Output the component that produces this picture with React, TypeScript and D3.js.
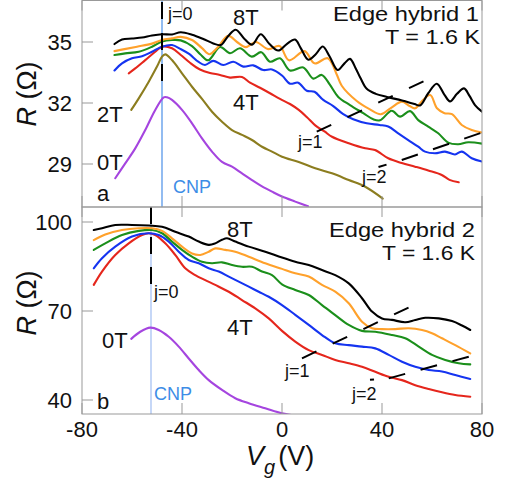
import React from "react";
import * as d3 from "d3";

// ---------- data ----------
const VG_TICKS = [-80, -40, 0, 40, 80];
const RA_TICKS = [29, 32, 35];
const RB_TICKS = [40, 70, 100];

const CNP_A = -48;
const CNP_B = -52.4;

// Panel a (Edge hybrid 1)
const a8T: [number, number][] = [[-67,34.9],[-64,35.12],[-60,35.17],[-56,35.22],[-52,35.32],[-48,35.38],[-44,35.37],[-40.5,35.48],[-36,35.36],[-31.5,35.15],[-27.5,34.93],[-24.5,34.85],[-21.5,35.3],[-18.5,35.6],[-15,35.15],[-12,34.87],[-8.5,35.38],[-5,34.9],[-1.5,34.58],[1.9,34.9],[5.2,35.12],[7.5,34.7],[10.5,34.13],[13.5,34.4],[16.3,34.78],[19,34.3],[22.3,33.62],[25,33.95],[27.2,34.17],[29.5,33.7],[31.5,33.2],[33.9,32.7],[37.5,32.45],[42,32.3],[48,32.12],[53,31.95],[55.2,31.88],[58.5,32.48],[61.9,32.95],[65,32.4],[67.2,32.08],[70,32.45],[72.8,32.72],[75,32.35],[77.2,31.9],[80,31.57]];
const a7T: [number, number][] = [[-67,34.55],[-63,34.65],[-58,34.77],[-52,34.92],[-48,35.1],[-44,35.18],[-40.5,35.25],[-36,35.1],[-32,34.7],[-29,34.4],[-26,34.7],[-21.5,35.3],[-18,35.0],[-14.5,34.75],[-10.5,35.0],[-5.5,34.65],[-1,34.8],[2.8,34.1],[9,34.55],[13,33.95],[18.3,34.2],[21.9,33.4],[23.9,32.85],[29.9,32.1],[35,31.7],[39.5,31.45],[43.5,31.75],[48,32.07],[51,31.85],[53.3,31.74],[56,32.1],[59.3,32.39],[62,31.74],[65,31.5],[68,31.45],[71.9,30.92],[75.9,30.67],[80,30.55]];
const a6T: [number, number][] = [[-67,34.36],[-62.7,34.44],[-57.3,34.52],[-52,34.77],[-48,35.02],[-44,35.1],[-40.5,35.08],[-36,34.8],[-32.7,34.4],[-29.5,34.1],[-24.8,34.75],[-20.8,34.45],[-16.8,34.69],[-12.1,34.28],[-8.3,34.5],[-4.8,34.03],[-0.8,34.2],[3.2,33.6],[8.5,33.75],[12.5,33.2],[15.9,33.38],[19.2,32.89],[22.5,32.3],[27.2,31.9],[32.5,31.5],[36.5,31.2],[39.2,31.15],[43.9,31.62],[47.2,31.33],[51.2,31.6],[54.5,31.16],[58.5,30.84],[62.5,30.51],[66.5,30.05],[70.5,29.97],[74.5,30.07],[80,30.0]];
const a5T: [number, number][] = [[-67,33.6],[-64,33.95],[-60,34.2],[-56,34.3],[-52,34.52],[-48,34.77],[-44,34.85],[-40.5,34.65],[-37,34.4],[-33.5,34.03],[-30.8,33.87],[-27.5,34.07],[-23.5,33.87],[-19.5,34.03],[-15.5,33.79],[-11.5,33.85],[-7.5,33.62],[-4,33.65],[0,33.35],[3.2,32.95],[6.5,33.0],[9.9,32.6],[13,32.55],[16.5,32.15],[20.5,31.85],[24.5,31.45],[28.5,31.2],[33.9,31.0],[39,30.92],[42.5,30.84],[46.5,30.51],[50.5,30.18],[54.5,29.85],[57.2,29.61],[61.2,29.53],[65.2,29.61],[69.2,29.47],[71.9,29.61],[75.9,29.28],[80,29.12]];
const a4T: [number, number][] = [[-61.3,33.46],[-58.7,33.7],[-54.7,34.11],[-50.7,34.52],[-48,34.77],[-44,34.69],[-40.5,34.36],[-36.8,33.98],[-32.8,33.65],[-28.8,33.48],[-24.8,33.38],[-20.8,33.25],[-16,33.28],[-12.8,33.0],[-8.8,32.75],[-4.8,32.48],[-0.8,32.2],[3.2,31.95],[6.7,31.66],[10,31.3],[13.3,30.9],[17,30.6],[20,30.34],[26.7,30.02],[33.3,29.77],[37.2,29.69],[42.5,29.28],[47.9,29.05],[53.2,28.87],[58.5,28.68],[63.9,28.46],[67,28.22],[70.7,28.1]];
const a2T: [number, number][] = [[-60.3,31.66],[-57.3,32.23],[-53.3,33.05],[-50,33.79],[-48,34.28],[-46.7,34.39],[-44,34.11],[-40,33.46],[-36,32.8],[-32,32.2],[-28,31.57],[-24,31.08],[-20,30.67],[-16,30.43],[-12,30.18],[-8,29.85],[-4,29.61],[0,29.36],[6.7,29.1],[13.3,28.79],[20,28.54],[26.7,28.21],[33.3,27.88],[40.3,27.3]];
const a0T: [number, number][] = [[-66.7,28.3],[-62.7,29.03],[-58.7,29.77],[-54.7,30.67],[-50.7,31.66],[-47.3,32.28],[-46,32.28],[-44,32.15],[-40,31.66],[-36,31.0],[-32,30.26],[-28,29.61],[-24,29.1],[-20,28.87],[-16,28.54],[-12,28.21],[-8,27.9],[-4,27.64],[0,27.4],[5.3,27.15],[10.4,26.92]];

// Panel b (Edge hybrid 2)
const b8T: [number, number][] = [[-75.3,97.3],[-72,97.9],[-66.7,99.0],[-60,99.0],[-53.3,98.8],[-48,98.4],[-42.7,96.7],[-37.3,95.1],[-33.3,93.4],[-29.3,92.3],[-26.7,92.8],[-24,94.0],[-22,94.5],[-18.7,93.4],[-13.3,91.7],[-6.7,90.0],[0,88.0],[5.3,86.6],[10.7,85.5],[16,83.8],[21.3,82.1],[26.7,79.3],[32,74.3],[36,69.8],[40,67.5],[44,67.0],[49.3,66.2],[53.3,67.0],[57.3,67.7],[62.7,67.5],[68,66.6],[72,65.1],[75.3,63.6]];
const b7T: [number, number][] = [[-75.3,93.9],[-70.7,95.8],[-64,97.3],[-57.3,97.9],[-52,97.9],[-48,97.0],[-44,94.5],[-40,91.7],[-36,89.4],[-32.7,88.9],[-29.3,90.0],[-26.7,91.1],[-22.7,90.6],[-18.7,90.0],[-13.3,88.3],[-6.7,86.1],[0,84.2],[5.3,82.7],[10.7,81.6],[16,78.8],[21.3,76.5],[26.7,72.6],[32,66.4],[36,64.2],[40,63.9],[45.3,63.9],[50.7,64.2],[56,63.6],[60,62.5],[64,60.8],[69.3,58.5],[75.3,55.7]];
const b6T: [number, number][] = [[-75.3,90.6],[-70.7,92.8],[-64,95.6],[-57.3,97.0],[-52,97.3],[-48,96.2],[-44,93.4],[-40,90.6],[-36,88.3],[-32,86.6],[-28,86.1],[-24,86.4],[-20,85.5],[-16,84.9],[-12,84.9],[-8,83.3],[-4,82.1],[0,79.0],[5.3,77.1],[10.7,75.4],[16,72.0],[21.3,68.6],[26.7,65.3],[32,63.3],[37.3,63.0],[44,61.9],[49.3,60.8],[54.7,58.0],[60,55.2],[65.3,53.5],[70.7,52.4],[75.3,52.0]];
const b5T: [number, number][] = [[-75.3,84.4],[-72,87.8],[-66.7,91.7],[-60,95.1],[-53.3,96.2],[-49.3,95.6],[-45.3,93.4],[-41.3,90.0],[-37.3,87.2],[-33.3,86.1],[-29.3,84.4],[-25.3,83.3],[-21.3,81.6],[-17.3,79.9],[-13.3,78.2],[-9.3,76.5],[-5.3,74.8],[0,72.0],[5.3,68.7],[10.7,65.3],[16,61.9],[21.3,59.1],[26.7,58.5],[32,58.0],[37.3,57.4],[42.7,55.2],[48,52.9],[53.3,51.2],[58.7,50.1],[64,49.6],[69.3,48.4],[75.3,47.1]];
const b4T: [number, number][] = [[-75.3,78.8],[-72,83.3],[-66.7,88.9],[-61.3,92.8],[-56,95.6],[-53.3,96.2],[-50.7,95.6],[-46.7,92.8],[-42.7,88.9],[-38.7,84.4],[-34.7,82.1],[-30.7,80.4],[-26.7,78.8],[-21.3,76.5],[-16,73.7],[-10.7,70.9],[-5.3,67.5],[0,63.3],[5.3,59.7],[10.7,56.8],[16,55.2],[21.3,53.5],[26.7,52.4],[32,51.2],[37.3,49.5],[42.7,47.8],[48,46.7],[53.3,45.0],[58.7,43.7],[64,42.6],[69.3,41.7],[75.3,41.1]];
const b0T: [number, number][] = [[-60.3,60.6],[-56.7,63.0],[-52.7,64.4],[-49.3,63.6],[-45.3,61.3],[-41.3,58.0],[-37.3,54.0],[-33.3,50.1],[-29.3,46.7],[-24,43.4],[-18.7,40.6],[-13.3,38.9],[-6.7,37.2],[0,35.5],[3.9,34.9]];

// j-lines (endpoints in data units)
const aJ1: [number, number][] = [[13.9,30.59],[57.2,33.1]];
const aJ2: [number, number][] = [[47.9,29.2],[79.9,30.54]];
const bJ1: [number, number][] = [[8,54.06],[52.7,72.0]];
const bJ2: [number, number][] = [[42.7,47.3],[74.7,54.6]];
const aJ2mark: [number, number][] = [[38.6,28.85],[41.8,28.97]];
const bJ2mark: [number, number][] = [[35.2,46.8],[36.8,46.9]];

const COLORS = {
  t8: "#000000",
  t7: "#ffa12b",
  t6: "#1b8f1b",
  t5: "#1534f0",
  t4: "#e5261c",
  t2: "#8c7d1f",
  t0: "#a545df",
};

// ---------- layout ----------
const W = 507, H = 483;
const X0 = 82, X1 = 482;
const A_TOP = 0.5, A_BOT = 207;
const B_TOP = 207, B_BOT = 414;
const FONT = "'Liberation Sans', Arial, Helvetica, sans-serif";

const x = d3.scaleLinear().domain([-80, 80]).range([X0, X1]);
const ya = d3.scaleLinear().domain([29, 35]).range([164, 42]);
const yb = d3.scaleLinear().domain([40, 100]).range([400, 222]);

function Curves({ y, series, clip }: { y: d3.ScaleLinear<number, number>; series: { d: [number, number][]; c: string }[]; clip: string }) {
  const line = d3.line<[number, number]>().x((p) => x(p[0])).y((p) => y(p[1])).curve(d3.curveCatmullRom.alpha(0.5));
  return (
    <g clipPath={`url(#${clip})`}>
      {series.map((s, i) => (
        <path key={i} d={line(s.d) || ""} fill="none" stroke={s.c} strokeWidth={2.1} strokeLinejoin="round" strokeLinecap="round" />
      ))}
    </g>
  );
}

function JLine({ y, d, dash }: { y: d3.ScaleLinear<number, number>; d: [number, number][]; dash?: string }) {
  const line = d3.line<[number, number]>().x((p) => x(p[0])).y((p) => y(p[1]));
  return <path d={line(d) || ""} fill="none" stroke="#000" strokeWidth={2} strokeDasharray={dash} />;
}

function Frame({ top, bot, y, yt }: { top: number; bot: number; y: d3.ScaleLinear<number, number>; yt: number[] }) {
  const gray = "#999";
  return (
    <g>
      <rect x={X0} y={top} width={X1 - X0} height={bot - top} fill="none" stroke={gray} strokeWidth={1} />
      {yt.map((t) => (
        <g key={t}>
          <line x1={X0} x2={X0 + 11} y1={y(t)} y2={y(t)} stroke={gray} strokeWidth={1} />
          <text x={72} y={y(t)} dy="0.36em" textAnchor="end" fontSize={22} fontFamily={FONT} fill="#111">{t}</text>
        </g>
      ))}
      {VG_TICKS.map((t) => (
        <g key={t}>
          <line x1={x(t)} x2={x(t)} y1={bot} y2={bot - 11} stroke={gray} strokeWidth={1} />
          <line x1={x(t)} x2={x(t)} y1={top} y2={top + 10} stroke={gray} strokeWidth={1} />
        </g>
      ))}
    </g>
  );
}

function T({ x: tx, y: ty, s = 22, c = "#111", a = "start", len, children }: any) {
  return (
    <text x={tx} y={ty} fontSize={s} fill={c} textAnchor={a} fontFamily={FONT}
      textLength={len} lengthAdjust={len ? "spacingAndGlyphs" : undefined}>{children}</text>
  );
}

export default function App() {
  const seriesA = [
    { d: a0T, c: COLORS.t0 },
    { d: a2T, c: COLORS.t2 },
    { d: a4T, c: COLORS.t4 },
    { d: a5T, c: COLORS.t5 },
    { d: a6T, c: COLORS.t6 },
    { d: a7T, c: COLORS.t7 },
    { d: a8T, c: COLORS.t8 },
  ];
  const seriesB = [
    { d: b0T, c: COLORS.t0 },
    { d: b4T, c: COLORS.t4 },
    { d: b5T, c: COLORS.t5 },
    { d: b6T, c: COLORS.t6 },
    { d: b7T, c: COLORS.t7 },
    { d: b8T, c: COLORS.t8 },
  ];
  return (
    <svg width={W} height={H} style={{ position: "absolute", left: 0, top: 0, background: "#fff" }} fontFamily={FONT}>
      <defs>
        <clipPath id="clipA"><rect x={X0} y={A_TOP} width={X1 - X0} height={A_BOT - A_TOP} /></clipPath>
        <clipPath id="clipB"><rect x={X0} y={B_TOP} width={X1 - X0} height={B_BOT - B_TOP} /></clipPath>
      </defs>
      <rect x={0} y={0} width={W} height={H} fill="#fff" />

      {/* CNP lines */}
      <line x1={x(CNP_A)} x2={x(CNP_A)} y1={A_TOP} y2={A_BOT} stroke="#4a8fe8" strokeWidth={1.2} />
      <line x1={x(CNP_B)} x2={x(CNP_B)} y1={B_TOP} y2={B_BOT} stroke="#9fbcf2" strokeWidth={1.2} />

      <Curves y={ya} series={seriesA} clip="clipA" />
      <Curves y={yb} series={seriesB} clip="clipB" />

      {/* j=0 vertical dashed lines */}
      <line x1={x(CNP_A)} x2={x(CNP_A)} y1={2} y2={83} stroke="#000" strokeWidth={2} strokeDasharray="17,14" />
      <line x1={x(CNP_B)} x2={x(CNP_B)} y1={207} y2={286} stroke="#000" strokeWidth={2} strokeDasharray="17,13" />

      {/* j lines */}
      <JLine y={ya} d={aJ1} dash="16,18" />
      <JLine y={ya} d={aJ2} dash="17,16" />
      <JLine y={yb} d={bJ1} dash="16,18" />
      <JLine y={yb} d={bJ2} dash="17,16" />
      <JLine y={ya} d={aJ2mark} />
      <JLine y={yb} d={bJ2mark} />

      <Frame top={A_TOP} bot={A_BOT} y={ya} yt={RA_TICKS} />
      <Frame top={B_TOP} bot={B_BOT} y={yb} yt={RB_TICKS} />

      {VG_TICKS.map((t) => (
        <text key={t} x={x(t)} y={437} textAnchor="middle" fontSize={22} fontFamily={FONT} fill="#111">{t}</text>
      ))}

      {/* panel a annotations */}
      <T x={233} y={25}>8T</T>
      <T x={233} y={110}>4T</T>
      <T x={97} y={122}>2T</T>
      <T x={97} y={170}>0T</T>
      <T x={97} y={201}>a</T>
      <T x={173} y={193} s={18} c="#3d8de6">CNP</T>
      <T x={168} y={20} s={18}>j=0</T>
      <T x={298} y={148} s={18}>j=1</T>
      <T x={362} y={183} s={18}>j=2</T>
      <T x={333} y={21} s={21} len={146}>Edge hybrid 1</T>
      <T x={385} y={44} s={21} len={95}>T = 1.6 K</T>

      {/* panel b annotations */}
      <T x={227} y={237}>8T</T>
      <T x={227} y={335}>4T</T>
      <T x={102} y={348}>0T</T>
      <T x={97} y={409}>b</T>
      <T x={154} y={400} s={18} c="#3d8de6">CNP</T>
      <T x={154} y={298} s={18}>j=0</T>
      <T x={285} y={377} s={18}>j=1</T>
      <T x={352} y={400} s={18}>j=2</T>
      <T x={329} y={237} s={21} len={146}>Edge hybrid 2</T>
      <T x={382} y={260} s={21} len={93}>T = 1.6 K</T>

      {/* axis labels */}
      <text transform="translate(36,94) rotate(-90)" textAnchor="middle" fontSize={27} fontFamily={FONT} fill="#111">
        <tspan fontStyle="italic">R</tspan> (Ω)
      </text>
      <text transform="translate(36,303) rotate(-90)" textAnchor="middle" fontSize={27} fontFamily={FONT} fill="#111">
        <tspan fontStyle="italic">R</tspan> (Ω)
      </text>
      <text x={246} y={465} fontSize={27} fontFamily={FONT} fill="#111">
        <tspan fontStyle="italic">V</tspan>
        <tspan fontStyle="italic" fontSize={20} dy={9} dx={0}>g</tspan>
        <tspan dy={-9} dx={3}>(V)</tspan>
      </text>
    </svg>
  );
}
